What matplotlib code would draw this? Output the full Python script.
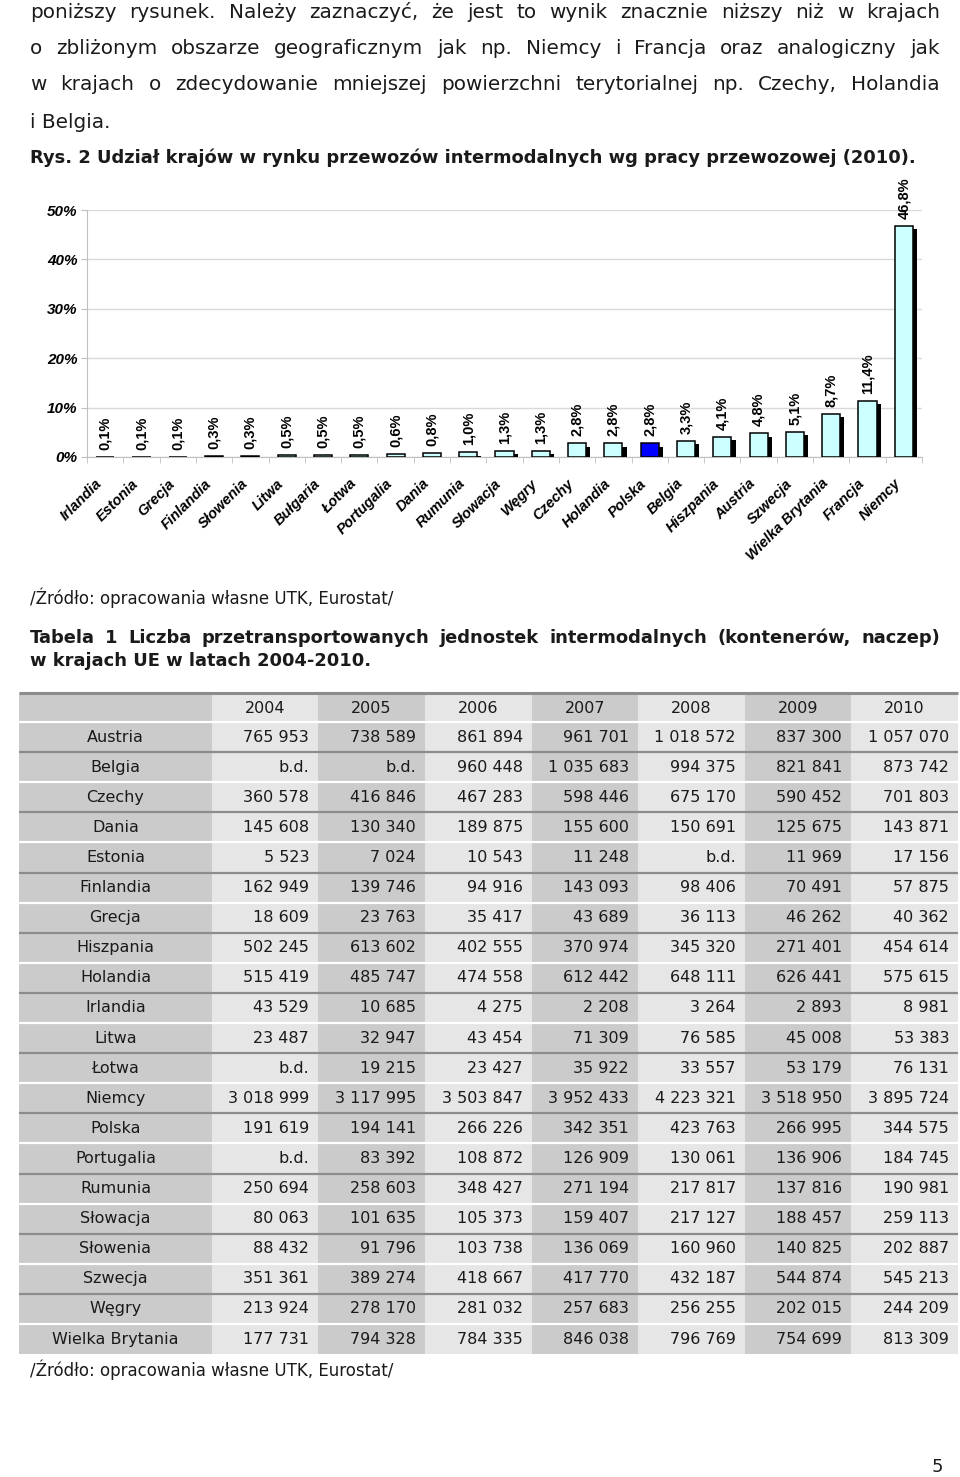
import numpy as np
import matplotlib
matplotlib.use('Agg')
import matplotlib.pyplot as plt
import matplotlib.patheffects as pe
from matplotlib.patches import Rectangle
from matplotlib.transforms import ScaledTranslation

W, H = 960, 1477
plt.rcParams['font.family'] = ['DejaVu Sans']

# ---------------- dane: wykres ----------------
chart_countries = ['Irlandia', 'Estonia', 'Grecja', 'Finlandia', 'Słowenia', 'Litwa',
                   'Bułgaria', 'Łotwa', 'Portugalia', 'Dania', 'Rumunia', 'Słowacja',
                   'Węgry', 'Czechy', 'Holandia', 'Polska', 'Belgia', 'Hiszpania',
                   'Austria', 'Szwecja', 'Wielka Brytania', 'Francja', 'Niemcy']
shares = [0.1, 0.1, 0.1, 0.3, 0.3, 0.5, 0.5, 0.5, 0.6, 0.8, 1.0, 1.3,
          1.3, 2.8, 2.8, 2.8, 3.3, 4.1, 4.8, 5.1, 8.7, 11.4, 46.8]
y_ticks = [0, 10, 20, 30, 40, 50]

# ---------------- dane: tabela ----------------
years = ['2004', '2005', '2006', '2007', '2008', '2009', '2010']
table_countries = ['Austria', 'Belgia', 'Czechy', 'Dania', 'Estonia', 'Finlandia', 'Grecja',
                   'Hiszpania', 'Holandia', 'Irlandia', 'Litwa', 'Łotwa', 'Niemcy', 'Polska',
                   'Portugalia', 'Rumunia', 'Słowacja', 'Słowenia', 'Szwecja', 'Węgry',
                   'Wielka Brytania']
v2004 = [765953, None, 360578, 145608, 5523, 162949, 18609, 502245, 515419, 43529, 23487,
         None, 3018999, 191619, None, 250694, 80063, 88432, 351361, 213924, 177731]
v2005 = [738589, None, 416846, 130340, 7024, 139746, 23763, 613602, 485747, 10685, 32947,
         19215, 3117995, 194141, 83392, 258603, 101635, 91796, 389274, 278170, 794328]
v2006 = [861894, 960448, 467283, 189875, 10543, 94916, 35417, 402555, 474558, 4275, 43454,
         23427, 3503847, 266226, 108872, 348427, 105373, 103738, 418667, 281032, 784335]
v2007 = [961701, 1035683, 598446, 155600, 11248, 143093, 43689, 370974, 612442, 2208, 71309,
         35922, 3952433, 342351, 126909, 271194, 159407, 136069, 417770, 257683, 846038]
v2008 = [1018572, 994375, 675170, 150691, None, 98406, 36113, 345320, 648111, 3264, 76585,
         33557, 4223321, 423763, 130061, 217817, 217127, 160960, 432187, 256255, 796769]
v2009 = [837300, 821841, 590452, 125675, 11969, 70491, 46262, 271401, 626441, 2893, 45008,
         53179, 3518950, 266995, 136906, 137816, 188457, 140825, 544874, 202015, 754699]
v2010 = [1057070, 873742, 701803, 143871, 17156, 57875, 40362, 454614, 575615, 8981, 53383,
         76131, 3895724, 344575, 184745, 190981, 259113, 202887, 545213, 244209, 813309]
year_cols = [v2004, v2005, v2006, v2007, v2008, v2009, v2010]

BODY = 14.4      # tekst akapitu
BOLD = 12.9      # podpisy rysunku / tabeli
SRC = 12.0       # źródło
TXT = '#1a1a1a'

fig = plt.figure(figsize=(W / 100, H / 100), dpi=100)
page = fig.add_axes([0, 0, 1, 1])
page.set_xlim(0, W)
page.set_ylim(H, 0)
page.axis('off')
renderer = fig.canvas.get_renderer()


def line(text, y, x0=30, x1=940, justify=False, **kw):
    kw.setdefault('fontsize', BODY)
    kw.setdefault('color', TXT)
    if not justify:
        page.text(x0, y, text, va='center', ha='left', **kw)
        return
    words = text.split(' ')
    items = [page.text(0, y, w, va='center', ha='left', **kw) for w in words]
    widths = [t.get_window_extent(renderer).width for t in items]
    gap = (x1 - x0 - sum(widths)) / (len(words) - 1)
    x = x0
    for t, w in zip(items, widths):
        t.set_x(x)
        x += w + gap


# ---------------- tekst ----------------
line('poniższy rysunek. Należy zaznaczyć, że jest to wynik znacznie niższy niż w krajach', 12, justify=True)
line('o zbliżonym obszarze geograficznym jak np. Niemcy i Francja oraz analogiczny jak', 48, justify=True)
line('w krajach o zdecydowanie mniejszej powierzchni terytorialnej np. Czechy, Holandia', 85, justify=True)
line('i Belgia.', 122)
line('Rys. 2 Udział krajów w rynku przewozów intermodalnych wg pracy przewozowej (2010).', 158,
     fontweight='bold', fontsize=BOLD)
line('/Źródło: opracowania własne UTK, Eurostat/', 598, fontsize=SRC)
line('Tabela 1 Liczba przetransportowanych jednostek intermodalnych (kontenerów, naczep)', 638,
     justify=True, fontweight='bold', fontsize=BOLD)
line('w krajach UE w latach 2004-2010.', 661, fontweight='bold', fontsize=BOLD)
line('/Źródło: opracowania własne UTK, Eurostat/', 1370, fontsize=SRC)
page.text(932, 1467, '5', va='center', ha='left', fontsize=13, color=TXT)

# ---------------- wykres ----------------
ax = fig.add_axes([87 / W, 1 - 457 / H, 835 / W, 247 / H])
x = np.arange(len(chart_countries))
colors = ['#0000ff' if c == 'Polska' else '#ccffff' for c in chart_countries]
bars = ax.bar(x, shares, width=0.5, color=colors, edgecolor='black', linewidth=1.1, zorder=3)
for b in bars:
    b.set_path_effects([pe.SimplePatchShadow(offset=(3, -2.5), shadow_rgbFace='black', alpha=1),
                        pe.Normal()])

cfont = dict(family='Liberation Sans', weight='bold', size=10.5)
for xi, v in zip(x, shares):
    ax.annotate(f'{v:.1f}%'.replace('.', ','), (xi, v), xytext=(0, 5), textcoords='offset points',
                rotation=90, ha='center', va='bottom', annotation_clip=False, **cfont)

ax.set_xlim(-0.5, len(chart_countries) - 0.5)
ax.set_ylim(0, 50)
ax.set_yticks(y_ticks)
ax.set_yticklabels([f'{t}%' for t in y_ticks], **dict(cfont, style='italic', size=11))
ax.yaxis.grid(True, color='#d9d9d9', lw=1)
ax.set_axisbelow(True)
for s in ['top', 'right']:
    ax.spines[s].set_visible(False)
for s in ['left', 'bottom']:
    ax.spines[s].set_color('#bfbfbf')
ax.tick_params(axis='y', length=4, color='#bfbfbf', pad=3)

ax.set_xticks(x)
ax.set_xticklabels(chart_countries, rotation=45, ha='right', va='top', rotation_mode='anchor',
                   **dict(cfont, style='italic'))
ax.set_xticks(np.arange(-0.5, len(chart_countries), 1), minor=True)
ax.tick_params(axis='x', which='major', length=0, pad=14)
ax.tick_params(axis='x', which='minor', length=4, color='#bfbfbf')
for lab in ax.get_xticklabels():
    lab.set_transform(lab.get_transform() + ScaledTranslation(-10 / 100, 0, fig.dpi_scale_trans))

# ---------------- tabela ----------------
col_edges = [19, 212, 318, 425, 532, 638, 745, 851, 958]
top, head_bot, row_h = 693, 722, 30.1
bottom = head_bot + row_h * len(table_countries)
LIGHT, DARK = '#e6e6e6', '#cbcbcb'
col_colors = [DARK] + [LIGHT if i % 2 == 0 else DARK for i in range(len(years))]
for i, c in enumerate(col_colors):
    page.add_patch(Rectangle((col_edges[i], top), col_edges[i + 1] - col_edges[i], bottom - top,
                             facecolor=c, edgecolor='none', zorder=1))
for k in range(len(table_countries)):
    yy = head_bot + k * row_h
    page.plot([col_edges[0], col_edges[-1]], [yy, yy], color='white' if k % 2 == 0 else '#8c8c8c',
              lw=1.6, zorder=2, solid_capstyle='butt')
page.plot([col_edges[0], col_edges[-1]], [top, top], color='#8c8c8c', lw=2.2, zorder=2,
          solid_capstyle='butt')

TF = 11.5
for j, yr in enumerate(years):
    page.text((col_edges[j + 1] + col_edges[j + 2]) / 2, (top + head_bot) / 2 + 1, yr,
              ha='center', va='center', fontsize=TF, color=TXT, zorder=3)
for i, name in enumerate(table_countries):
    yc = head_bot + (i + 0.5) * row_h
    page.text((col_edges[0] + col_edges[1]) / 2, yc, name, ha='center', va='center',
              fontsize=TF, color=TXT, zorder=3)
    for j, col in enumerate(year_cols):
        v = col[i]
        s = 'b.d.' if v is None else f'{v:,}'.replace(',', ' ')
        page.text(col_edges[j + 2] - 9, yc, s, ha='right', va='center', fontsize=TF,
                  color=TXT, zorder=3)

fig.savefig('out.png', dpi=100)
